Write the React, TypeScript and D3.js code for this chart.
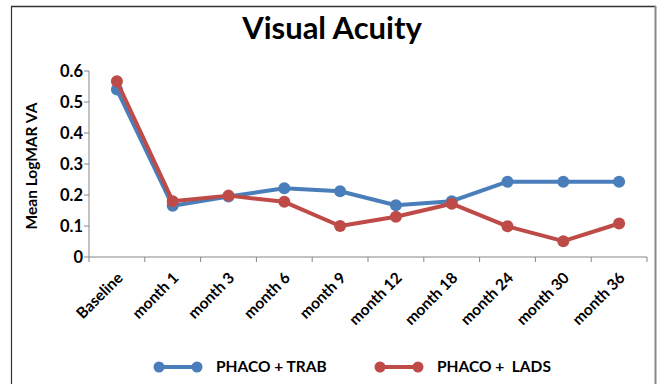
import React from "react";
import * as d3 from "d3";

const categories = ["Baseline", "month 1", "month 3", "month 6", "month 9", "month 12", "month 18", "month 24", "month 30", "month 36"];
const trabValues = [0.54, 0.165, 0.195, 0.222, 0.212, 0.167, 0.18, 0.243, 0.243, 0.243];
const ladsValues = [0.567, 0.18, 0.198, 0.178, 0.1, 0.13, 0.172, 0.099, 0.051, 0.108];
const yTicks = [0, 0.1, 0.2, 0.3, 0.4, 0.5, 0.6];
const seriesNames = ["PHACO + TRAB", "PHACO +  LADS"];
const colors = ["#4A7EBB", "#BE4B48"];

const W = 659, H = 384;
const left = 89, right = 647, top = 71, bottom = 257;
const FONT = "Lato, 'Open Sans', sans-serif";

export default function App() {
  const x = d3.scaleBand<string>().domain(categories).range([left, right]).padding(0);
  const y = d3.scaleLinear().domain([0, 0.6]).range([bottom, top]);
  const cx = (c: string) => (x(c) as number) + x.bandwidth() / 2;
  const line = d3.line<number>().x((_, i) => cx(categories[i])).y((d) => y(d));
  const series = [trabValues, ladsValues];
  const edges = categories.map((c) => x(c) as number).concat([right]);
  const legendX = [154, 375];

  return (
    <svg width={W} height={H} style={{ position: "absolute", left: 0, top: 0, background: "#fff" }}>
      <rect x={0} y={0} width={W} height={H} fill="#fff" />
      {/* frame */}
      <line x1={11} y1={6.5} x2={656} y2={6.5} stroke="#333" strokeWidth={1.5} />
      <line x1={11.5} y1={6} x2={11.5} y2={H} stroke="#333" strokeWidth={1.2} />
      <line x1={655.5} y1={6} x2={655.5} y2={H} stroke="#888" strokeWidth={2} />
      <text x={332} y={39} textAnchor="middle" fontFamily={FONT} fontWeight={700} fontSize={31} fill="#000">Visual Acuity</text>
      {/* y axis */}
      <line x1={left} y1={top} x2={left} y2={bottom} stroke="#868686" strokeWidth={1} />
      {yTicks.map((t) => (
        <g key={t}>
          <line x1={left - 5} x2={left} y1={y(t)} y2={y(t)} stroke="#868686" />
          <text x={left - 6} y={y(t)} dy="0.35em" textAnchor="end" fontFamily={FONT} fontWeight={700} fontSize={16.5} fill="#000">
            {t === 0 ? "0" : t.toFixed(1)}
          </text>
        </g>
      ))}
      <text transform={`translate(37,${(top + bottom) / 2 + 2}) rotate(-90)`} textAnchor="middle" fontFamily={FONT} fontWeight={700} fontSize={15.5} fill="#000">Mean LogMAR VA</text>
      {/* x axis */}
      <line x1={left} x2={right} y1={bottom} y2={bottom} stroke="#868686" />
      {edges.map((e, i) => (
        <line key={i} x1={e} x2={e} y1={bottom} y2={bottom + 5} stroke="#868686" />
      ))}
      {categories.map((c) => (
        <text key={c} transform={`translate(${cx(c) + 3},${bottom + 18}) rotate(-45)`} textAnchor="end" dy="0.35em" fontFamily={FONT} fontWeight={700} fontSize={15.5} fill="#000">{c}</text>
      ))}
      {/* series */}
      {series.map((vals, si) => (
        <g key={si}>
          <path d={line(vals) as string} fill="none" stroke={colors[si]} strokeWidth={4} strokeLinejoin="round" />
          {vals.map((v, i) => (
            <circle key={i} cx={cx(categories[i])} cy={y(v)} r={6} fill={colors[si]} />
          ))}
        </g>
      ))}
      {/* legend */}
      {seriesNames.map((n, i) => (
        <g key={n}>
          <line x1={legendX[i] + 4} x2={legendX[i] + 44} y1={367} y2={367} stroke={colors[i]} strokeWidth={4} />
          <circle cx={legendX[i] + 5} cy={367} r={5.5} fill={colors[i]} />
          <circle cx={legendX[i] + 43} cy={367} r={5.5} fill={colors[i]} />
          <text x={legendX[i] + 62} y={367} dy="0.35em" fontFamily={FONT} fontWeight={700} fontSize={15.5} fill="#000" style={{ whiteSpace: "pre" }}>{n}</text>
        </g>
      ))}
    </svg>
  );
}
